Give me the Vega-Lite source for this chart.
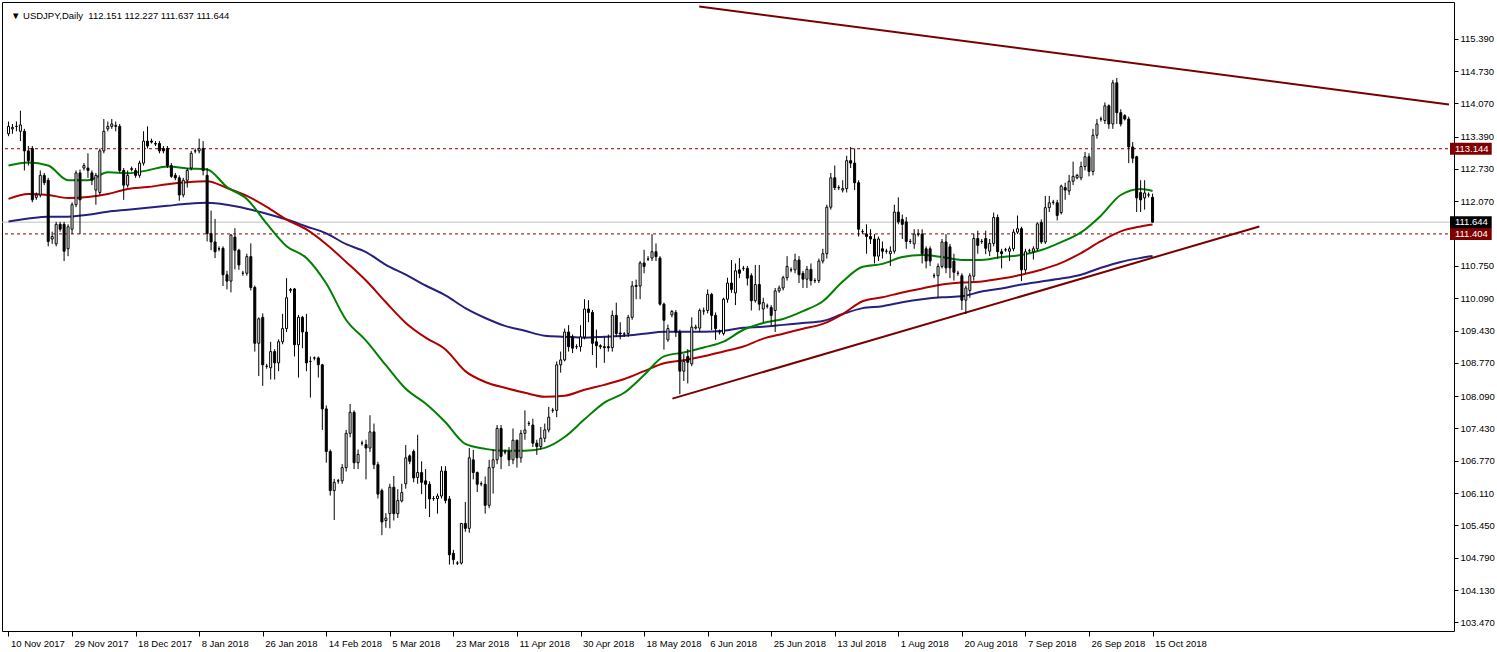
{
  "$schema": "https://vega.github.io/schema/vega-lite/v6.json",
  "width": 1452,
  "height": 629,
  "autosize": {"type": "none"},
  "padding": {"left": 2, "top": 2, "right": 43, "bottom": 21},
  "background": "#ffffff",
  "config": {
    "view": {"stroke": "#000000", "strokeWidth": 1},
    "font": "Liberation Sans",
    "axis": {"labelFont": "Liberation Sans", "labelFontSize": 9.5, "labelColor": "#000000", "tickColor": "#000000", "grid": false, "domain": false, "title": null}
  },
  "datasets": {
    "header": [
      {"t": "\u25bc USDJPY,Daily\u00a0\u00a0112.151 112.227 111.637 111.644"}
    ],
    "levels": [
      {"price": 113.144, "kind": "level"},
      {"price": 111.404, "kind": "level"},
      {"price": 111.644, "kind": "bid"}
    ],
    "trend": [
      {"line": "upper", "i": 173.875, "v": 116.05},
      {"line": "upper", "i": 362.625, "v": 114.049},
      {"line": "lower", "i": 167.125, "v": 108.039},
      {"line": "lower", "i": 314.875, "v": 111.556}
    ],
    "ma": [
      {"i":0,"g":112.802,"r":112.119,"b":111.657},
      {"i":5,"g":112.863,"r":112.219,"b":111.717},
      {"i":10,"g":112.802,"r":112.199,"b":111.757},
      {"i":15,"g":112.501,"r":112.139,"b":111.757},
      {"i":20,"g":112.501,"r":112.159,"b":111.797},
      {"i":25,"g":112.662,"r":112.219,"b":111.858},
      {"i":30,"g":112.642,"r":112.320,"b":111.898},
      {"i":35,"g":112.702,"r":112.360,"b":111.938},
      {"i":40,"g":112.782,"r":112.420,"b":111.978},
      {"i":45,"g":112.742,"r":112.461,"b":112.018},
      {"i":50,"g":112.722,"r":112.481,"b":112.039},
      {"i":55,"g":112.360,"r":112.340,"b":111.998},
      {"i":60,"g":112.119,"r":112.179,"b":111.918},
      {"i":65,"g":111.616,"r":111.958,"b":111.817},
      {"i":70,"g":111.154,"r":111.697,"b":111.697},
      {"i":75,"g":110.913,"r":111.496,"b":111.556},
      {"i":80,"g":110.390,"r":111.194,"b":111.415},
      {"i":85,"g":109.646,"r":110.832,"b":111.194},
      {"i":90,"g":109.224,"r":110.451,"b":111.033},
      {"i":95,"g":108.722,"r":110.008,"b":110.772},
      {"i":100,"g":108.240,"r":109.586,"b":110.571},
      {"i":105,"g":107.938,"r":109.285,"b":110.350},
      {"i":110,"g":107.556,"r":109.043,"b":110.149},
      {"i":115,"g":107.114,"r":108.601,"b":109.888},
      {"i":120,"g":107.013,"r":108.380,"b":109.687},
      {"i":125,"g":106.973,"r":108.260,"b":109.526},
      {"i":130,"g":106.973,"r":108.159,"b":109.425},
      {"i":135,"g":107.033,"r":108.079,"b":109.325},
      {"i":140,"g":107.255,"r":108.099,"b":109.305},
      {"i":145,"g":107.616,"r":108.220,"b":109.285},
      {"i":150,"g":107.958,"r":108.320,"b":109.305},
      {"i":155,"g":108.159,"r":108.440,"b":109.325},
      {"i":160,"g":108.521,"r":108.601,"b":109.365},
      {"i":165,"g":108.903,"r":108.762,"b":109.405},
      {"i":170,"g":108.983,"r":108.822,"b":109.405},
      {"i":175,"g":109.084,"r":108.903,"b":109.405},
      {"i":180,"g":109.204,"r":109.003,"b":109.425},
      {"i":185,"g":109.446,"r":109.104,"b":109.486},
      {"i":190,"g":109.586,"r":109.265,"b":109.506},
      {"i":195,"g":109.667,"r":109.365,"b":109.546},
      {"i":200,"g":109.827,"r":109.466,"b":109.586},
      {"i":205,"g":110.028,"r":109.566,"b":109.626},
      {"i":210,"g":110.431,"r":109.767,"b":109.767},
      {"i":215,"g":110.732,"r":110.028,"b":109.888},
      {"i":220,"g":110.792,"r":110.109,"b":109.928},
      {"i":225,"g":110.933,"r":110.209,"b":110.008},
      {"i":230,"g":110.973,"r":110.290,"b":110.069},
      {"i":235,"g":110.933,"r":110.370,"b":110.109},
      {"i":240,"g":110.873,"r":110.410,"b":110.129},
      {"i":245,"g":110.873,"r":110.431,"b":110.229},
      {"i":250,"g":110.933,"r":110.491,"b":110.290},
      {"i":255,"g":110.973,"r":110.571,"b":110.370},
      {"i":260,"g":111.074,"r":110.672,"b":110.431},
      {"i":265,"g":111.235,"r":110.812,"b":110.491},
      {"i":270,"g":111.436,"r":111.013,"b":110.571},
      {"i":275,"g":111.777,"r":111.255,"b":110.712},
      {"i":280,"g":112.199,"r":111.456,"b":110.832},
      {"i":285,"g":112.320,"r":111.556,"b":110.913},
      {"i":288,"g":112.280,"r":111.596,"b":110.953}
    ],
    "bars": [
      {"i":0,"o":113.45,"h":113.7,"l":113.4,"c":113.6},
      {"i":1,"o":113.55,"h":113.65,"l":113.45,"c":113.58},
      {"i":2,"o":113.6,"h":113.7,"l":113.5,"c":113.6},
      {"i":3,"o":113.5,"h":113.92,"l":113.3,"c":113.63},
      {"i":4,"o":113.5,"h":113.55,"l":112.7,"c":113.1},
      {"i":5,"o":113.1,"h":113.2,"l":112.8,"c":112.9},
      {"i":6,"o":113.15,"h":113.2,"l":112.05,"c":112.1},
      {"i":7,"o":112.15,"h":112.25,"l":112.1,"c":112.2},
      {"i":8,"o":112.2,"h":112.7,"l":112.15,"c":112.6},
      {"i":9,"o":112.6,"h":112.65,"l":112.4,"c":112.45},
      {"i":10,"o":112.5,"h":112.55,"l":111.15,"c":111.25},
      {"i":11,"o":111.3,"h":111.45,"l":111.2,"c":111.35},
      {"i":12,"o":111.2,"h":111.65,"l":111.15,"c":111.6},
      {"i":13,"o":111.6,"h":111.65,"l":111.45,"c":111.5},
      {"i":14,"o":111.6,"h":111.65,"l":110.85,"c":111.05},
      {"i":15,"o":111.1,"h":111.6,"l":110.95,"c":111.55},
      {"i":16,"o":111.5,"h":112.05,"l":111.4,"c":112.0},
      {"i":17,"o":112.0,"h":112.7,"l":111.95,"c":112.65},
      {"i":18,"o":112.65,"h":112.72,"l":111.4,"c":112.1},
      {"i":19,"o":112.75,"h":112.85,"l":112.7,"c":112.8},
      {"i":20,"o":112.75,"h":113.05,"l":112.55,"c":112.7},
      {"i":21,"o":112.65,"h":112.7,"l":112.4,"c":112.5},
      {"i":22,"o":112.3,"h":112.65,"l":112.0,"c":112.6},
      {"i":23,"o":112.25,"h":113.15,"l":112.2,"c":113.1},
      {"i":24,"o":113.1,"h":113.75,"l":113.05,"c":113.5},
      {"i":25,"o":113.55,"h":113.7,"l":113.5,"c":113.6},
      {"i":26,"o":113.6,"h":113.75,"l":113.55,"c":113.65},
      {"i":27,"o":113.6,"h":113.7,"l":113.5,"c":113.62},
      {"i":28,"o":113.6,"h":113.65,"l":112.65,"c":112.7},
      {"i":29,"o":112.7,"h":112.75,"l":112.1,"c":112.4},
      {"i":30,"o":112.4,"h":112.7,"l":112.35,"c":112.6},
      {"i":31,"o":112.72,"h":112.78,"l":112.68,"c":112.74},
      {"i":32,"o":112.7,"h":112.75,"l":112.55,"c":112.6},
      {"i":33,"o":112.6,"h":112.9,"l":112.55,"c":112.85},
      {"i":34,"o":112.85,"h":113.5,"l":112.8,"c":113.3},
      {"i":35,"o":113.3,"h":113.6,"l":113.15,"c":113.2},
      {"i":36,"o":113.3,"h":113.35,"l":113.25,"c":113.28},
      {"i":37,"o":113.25,"h":113.3,"l":113.2,"c":113.24},
      {"i":38,"o":113.25,"h":113.3,"l":113.05,"c":113.1},
      {"i":39,"o":113.15,"h":113.2,"l":113.05,"c":113.1},
      {"i":40,"o":113.15,"h":113.2,"l":112.75,"c":112.8},
      {"i":41,"o":112.8,"h":112.85,"l":112.55,"c":112.58},
      {"i":42,"o":112.6,"h":112.65,"l":112.5,"c":112.55},
      {"i":43,"o":112.55,"h":112.6,"l":112.08,"c":112.2},
      {"i":44,"o":112.2,"h":112.55,"l":112.15,"c":112.5},
      {"i":45,"o":112.5,"h":112.75,"l":112.35,"c":112.7},
      {"i":46,"o":112.75,"h":113.1,"l":112.7,"c":113.05},
      {"i":47,"o":113.1,"h":113.15,"l":113.05,"c":113.1},
      {"i":48,"o":113.1,"h":113.35,"l":113.05,"c":113.15},
      {"i":49,"o":113.15,"h":113.3,"l":112.6,"c":112.7},
      {"i":50,"o":112.6,"h":112.75,"l":111.25,"c":111.41},
      {"i":51,"o":111.41,"h":111.88,"l":111.07,"c":111.24},
      {"i":52,"o":111.24,"h":111.71,"l":110.91,"c":111.04},
      {"i":53,"o":111.1,"h":111.15,"l":111.05,"c":111.1},
      {"i":54,"o":111.11,"h":111.15,"l":110.34,"c":110.57},
      {"i":55,"o":110.57,"h":110.65,"l":110.27,"c":110.44},
      {"i":56,"o":110.44,"h":111.4,"l":110.21,"c":111.38},
      {"i":57,"o":111.34,"h":111.52,"l":110.68,"c":111.07},
      {"i":58,"o":111.07,"h":111.1,"l":110.67,"c":110.77},
      {"i":59,"o":110.6,"h":110.65,"l":110.55,"c":110.6},
      {"i":60,"o":110.6,"h":111.0,"l":110.55,"c":110.94},
      {"i":61,"o":110.94,"h":111.21,"l":110.25,"c":110.31},
      {"i":62,"o":110.31,"h":110.35,"l":109.0,"c":109.17},
      {"i":63,"o":109.17,"h":109.7,"l":108.5,"c":109.67},
      {"i":64,"o":109.7,"h":109.78,"l":108.3,"c":108.73},
      {"i":65,"o":108.7,"h":108.75,"l":108.65,"c":108.7},
      {"i":66,"o":108.67,"h":109.2,"l":108.43,"c":109.0},
      {"i":67,"o":109.0,"h":109.05,"l":108.43,"c":108.77},
      {"i":68,"o":108.77,"h":109.25,"l":108.6,"c":109.2},
      {"i":69,"o":109.2,"h":109.77,"l":109.15,"c":109.47},
      {"i":70,"o":109.47,"h":110.5,"l":109.4,"c":110.1},
      {"i":71,"o":110.25,"h":110.3,"l":110.2,"c":110.27},
      {"i":72,"o":110.28,"h":110.3,"l":108.9,"c":109.14},
      {"i":73,"o":109.14,"h":109.75,"l":108.47,"c":109.7},
      {"i":74,"o":109.7,"h":109.73,"l":109.07,"c":109.4},
      {"i":75,"o":109.4,"h":109.77,"l":108.6,"c":108.77},
      {"i":76,"o":108.8,"h":108.9,"l":108.06,"c":108.8},
      {"i":77,"o":108.87,"h":108.9,"l":108.82,"c":108.87},
      {"i":78,"o":108.87,"h":108.9,"l":108.47,"c":108.73},
      {"i":79,"o":108.73,"h":108.75,"l":107.4,"c":107.83},
      {"i":80,"o":107.83,"h":107.9,"l":106.73,"c":106.96},
      {"i":81,"o":106.96,"h":107.0,"l":106.06,"c":106.16},
      {"i":82,"o":106.16,"h":106.4,"l":105.56,"c":106.33},
      {"i":83,"o":106.36,"h":106.4,"l":106.3,"c":106.36},
      {"i":84,"o":106.36,"h":106.7,"l":106.3,"c":106.63},
      {"i":85,"o":106.63,"h":107.4,"l":106.55,"c":107.33},
      {"i":86,"o":107.33,"h":107.93,"l":107.25,"c":107.76},
      {"i":87,"o":107.76,"h":107.8,"l":106.6,"c":106.73},
      {"i":88,"o":106.73,"h":107.0,"l":106.6,"c":106.9},
      {"i":89,"o":107.13,"h":107.18,"l":107.08,"c":107.13},
      {"i":90,"o":107.1,"h":107.2,"l":106.39,"c":107.03},
      {"i":91,"o":107.03,"h":107.7,"l":106.95,"c":107.36},
      {"i":92,"o":107.36,"h":107.53,"l":106.6,"c":106.69},
      {"i":93,"o":106.69,"h":106.75,"l":106.0,"c":106.09},
      {"i":94,"o":106.16,"h":106.2,"l":105.25,"c":105.52},
      {"i":95,"o":105.55,"h":105.7,"l":105.4,"c":105.6},
      {"i":96,"o":105.69,"h":106.3,"l":105.39,"c":106.23},
      {"i":97,"o":106.23,"h":106.46,"l":105.55,"c":105.69},
      {"i":98,"o":105.69,"h":106.19,"l":105.6,"c":105.96},
      {"i":99,"o":105.95,"h":106.3,"l":105.92,"c":106.12},
      {"i":100,"o":106.3,"h":107.09,"l":106.2,"c":106.83},
      {"i":101,"o":106.87,"h":106.9,"l":106.7,"c":106.76},
      {"i":102,"o":106.96,"h":107.0,"l":106.33,"c":106.42},
      {"i":103,"o":106.43,"h":107.3,"l":106.3,"c":106.53},
      {"i":104,"o":106.53,"h":106.76,"l":106.09,"c":106.33},
      {"i":105,"o":106.36,"h":106.6,"l":105.79,"c":106.29},
      {"i":106,"o":106.29,"h":106.35,"l":105.62,"c":105.99},
      {"i":107,"o":106.0,"h":106.05,"l":105.95,"c":106.0},
      {"i":108,"o":106.0,"h":106.1,"l":105.69,"c":106.05},
      {"i":109,"o":106.05,"h":106.66,"l":106.0,"c":106.56},
      {"i":110,"o":106.56,"h":106.66,"l":105.9,"c":105.96},
      {"i":111,"o":105.99,"h":106.05,"l":104.65,"c":104.85},
      {"i":112,"o":104.88,"h":104.95,"l":104.65,"c":104.75},
      {"i":113,"o":104.68,"h":104.72,"l":104.64,"c":104.68},
      {"i":114,"o":104.68,"h":105.5,"l":104.65,"c":105.49},
      {"i":115,"o":105.49,"h":105.93,"l":105.32,"c":105.39},
      {"i":116,"o":105.39,"h":107.03,"l":105.3,"c":106.83},
      {"i":117,"o":106.79,"h":106.99,"l":106.39,"c":106.53},
      {"i":118,"o":106.53,"h":106.55,"l":106.13,"c":106.29},
      {"i":119,"o":106.3,"h":106.35,"l":106.25,"c":106.3},
      {"i":120,"o":106.29,"h":106.45,"l":105.69,"c":105.86},
      {"i":121,"o":105.86,"h":106.79,"l":105.8,"c":106.63},
      {"i":122,"o":106.63,"h":107.0,"l":106.1,"c":106.79},
      {"i":123,"o":106.79,"h":107.5,"l":106.7,"c":107.43},
      {"i":124,"o":107.43,"h":107.5,"l":106.6,"c":106.86},
      {"i":125,"o":106.95,"h":107.0,"l":106.9,"c":106.95},
      {"i":126,"o":106.96,"h":107.05,"l":106.66,"c":106.79},
      {"i":127,"o":106.79,"h":107.43,"l":106.7,"c":107.19},
      {"i":128,"o":107.19,"h":107.2,"l":106.63,"c":106.83},
      {"i":129,"o":106.83,"h":107.4,"l":106.73,"c":107.33},
      {"i":130,"o":107.33,"h":107.8,"l":107.2,"c":107.4},
      {"i":131,"o":107.53,"h":107.58,"l":107.48,"c":107.53},
      {"i":132,"o":107.5,"h":107.63,"l":107.05,"c":107.13},
      {"i":133,"o":107.13,"h":107.2,"l":106.89,"c":107.06},
      {"i":134,"o":107.06,"h":107.46,"l":107.0,"c":107.23},
      {"i":135,"o":107.23,"h":107.53,"l":107.15,"c":107.4},
      {"i":136,"o":107.4,"h":107.87,"l":107.35,"c":107.66},
      {"i":137,"o":107.8,"h":107.85,"l":107.75,"c":107.8},
      {"i":138,"o":107.8,"h":108.8,"l":107.66,"c":108.73},
      {"i":139,"o":108.73,"h":109.0,"l":108.57,"c":108.83},
      {"i":140,"o":108.83,"h":109.47,"l":108.8,"c":109.4},
      {"i":141,"o":109.4,"h":109.54,"l":109.0,"c":109.1},
      {"i":142,"o":109.3,"h":109.35,"l":108.97,"c":109.07},
      {"i":143,"o":109.1,"h":109.15,"l":109.05,"c":109.1},
      {"i":144,"o":109.1,"h":109.54,"l":109.0,"c":109.3},
      {"i":145,"o":109.3,"h":110.07,"l":109.25,"c":109.87},
      {"i":146,"o":109.87,"h":110.05,"l":109.6,"c":109.8},
      {"i":147,"o":109.8,"h":109.85,"l":108.93,"c":109.17},
      {"i":148,"o":109.2,"h":109.45,"l":108.67,"c":109.12},
      {"i":149,"o":109.12,"h":109.15,"l":109.05,"c":109.1},
      {"i":150,"o":109.1,"h":109.3,"l":108.77,"c":109.08},
      {"i":151,"o":109.1,"h":109.35,"l":109.0,"c":109.08},
      {"i":152,"o":109.08,"h":109.84,"l":109.0,"c":109.74},
      {"i":153,"o":109.74,"h":110.0,"l":109.3,"c":109.37},
      {"i":154,"o":109.38,"h":109.6,"l":109.25,"c":109.36},
      {"i":155,"o":109.36,"h":109.4,"l":109.3,"c":109.36},
      {"i":156,"o":109.37,"h":109.75,"l":109.3,"c":109.7},
      {"i":157,"o":109.7,"h":110.44,"l":109.65,"c":110.34},
      {"i":158,"o":110.33,"h":110.47,"l":110.07,"c":110.35},
      {"i":159,"o":110.34,"h":110.85,"l":110.07,"c":110.81},
      {"i":160,"o":110.81,"h":111.08,"l":110.6,"c":110.74},
      {"i":161,"o":110.89,"h":110.95,"l":110.85,"c":110.89},
      {"i":162,"o":110.91,"h":111.4,"l":110.85,"c":111.04},
      {"i":163,"o":111.04,"h":111.21,"l":110.85,"c":110.94},
      {"i":164,"o":110.91,"h":110.95,"l":109.94,"c":109.97},
      {"i":165,"o":109.97,"h":110.0,"l":109.04,"c":109.64},
      {"i":166,"o":109.24,"h":109.55,"l":109.2,"c":109.47},
      {"i":167,"o":109.75,"h":109.85,"l":109.7,"c":109.82},
      {"i":168,"o":109.8,"h":109.85,"l":109.3,"c":109.4},
      {"i":169,"o":109.4,"h":109.45,"l":108.13,"c":108.6},
      {"i":170,"o":108.6,"h":108.95,"l":108.4,"c":108.8},
      {"i":171,"o":108.9,"h":109.05,"l":108.35,"c":108.78},
      {"i":172,"o":108.75,"h":109.7,"l":108.7,"c":109.5},
      {"i":173,"o":109.48,"h":109.55,"l":109.45,"c":109.5},
      {"i":174,"o":109.48,"h":109.88,"l":109.4,"c":109.84},
      {"i":175,"o":109.83,"h":109.9,"l":109.75,"c":109.83},
      {"i":176,"o":109.84,"h":110.27,"l":109.78,"c":110.17},
      {"i":177,"o":110.17,"h":110.2,"l":109.44,"c":109.74},
      {"i":178,"o":109.74,"h":109.8,"l":109.24,"c":109.47},
      {"i":179,"o":109.4,"h":109.45,"l":109.35,"c":109.4},
      {"i":180,"o":109.37,"h":110.1,"l":109.33,"c":110.07},
      {"i":181,"o":110.07,"h":110.51,"l":110.0,"c":110.4},
      {"i":182,"o":110.4,"h":110.87,"l":110.2,"c":110.27},
      {"i":183,"o":110.2,"h":110.8,"l":109.95,"c":110.65},
      {"i":184,"o":110.67,"h":110.91,"l":110.5,"c":110.6},
      {"i":185,"o":110.7,"h":110.75,"l":110.65,"c":110.7},
      {"i":186,"o":110.7,"h":110.75,"l":110.35,"c":110.5},
      {"i":187,"o":110.55,"h":110.6,"l":109.84,"c":110.04},
      {"i":188,"o":110.04,"h":110.77,"l":110.0,"c":110.37},
      {"i":189,"o":110.37,"h":110.77,"l":109.84,"c":109.97},
      {"i":190,"o":109.87,"h":110.1,"l":109.6,"c":110.0},
      {"i":191,"o":109.93,"h":109.98,"l":109.88,"c":109.93},
      {"i":192,"o":109.9,"h":109.95,"l":109.53,"c":109.74},
      {"i":193,"o":109.84,"h":110.3,"l":109.4,"c":110.24},
      {"i":194,"o":110.24,"h":110.35,"l":110.2,"c":110.3},
      {"i":195,"o":110.3,"h":110.55,"l":110.25,"c":110.51},
      {"i":196,"o":110.51,"h":110.95,"l":110.45,"c":110.74},
      {"i":197,"o":110.67,"h":110.72,"l":110.62,"c":110.67},
      {"i":198,"o":110.67,"h":111.0,"l":110.6,"c":110.87},
      {"i":199,"o":110.87,"h":110.95,"l":110.4,"c":110.57},
      {"i":200,"o":110.6,"h":110.65,"l":110.3,"c":110.48},
      {"i":201,"o":110.48,"h":110.75,"l":110.3,"c":110.68},
      {"i":202,"o":110.68,"h":110.8,"l":110.35,"c":110.45},
      {"i":203,"o":110.45,"h":110.5,"l":110.4,"c":110.45},
      {"i":204,"o":110.45,"h":110.9,"l":110.4,"c":110.85},
      {"i":205,"o":110.85,"h":111.1,"l":110.8,"c":111.0},
      {"i":206,"o":111.0,"h":112.0,"l":110.9,"c":111.95},
      {"i":207,"o":111.95,"h":112.65,"l":111.9,"c":112.55},
      {"i":208,"o":112.55,"h":112.8,"l":112.3,"c":112.35},
      {"i":209,"o":112.35,"h":112.4,"l":112.3,"c":112.35},
      {"i":210,"o":112.3,"h":112.5,"l":112.25,"c":112.33},
      {"i":211,"o":112.33,"h":113.0,"l":112.25,"c":112.9},
      {"i":212,"o":112.9,"h":113.18,"l":112.75,"c":112.85},
      {"i":213,"o":112.85,"h":113.15,"l":112.3,"c":112.45},
      {"i":214,"o":112.45,"h":112.5,"l":111.35,"c":111.5},
      {"i":215,"o":111.45,"h":111.5,"l":111.4,"c":111.45},
      {"i":216,"o":111.4,"h":111.6,"l":111.0,"c":111.35},
      {"i":217,"o":111.35,"h":111.5,"l":111.2,"c":111.3},
      {"i":218,"o":111.3,"h":111.4,"l":110.8,"c":110.95},
      {"i":219,"o":110.95,"h":111.35,"l":110.85,"c":111.3},
      {"i":220,"o":111.1,"h":111.25,"l":110.9,"c":111.05},
      {"i":221,"o":111.05,"h":111.1,"l":111.0,"c":111.05},
      {"i":222,"o":111.0,"h":111.15,"l":110.75,"c":111.05},
      {"i":223,"o":111.05,"h":112.0,"l":111.0,"c":111.85},
      {"i":224,"o":111.85,"h":112.15,"l":111.6,"c":111.65},
      {"i":225,"o":111.7,"h":111.8,"l":111.3,"c":111.6},
      {"i":226,"o":111.65,"h":111.75,"l":111.1,"c":111.25},
      {"i":227,"o":111.25,"h":111.3,"l":111.2,"c":111.25},
      {"i":228,"o":111.2,"h":111.5,"l":111.1,"c":111.4},
      {"i":229,"o":111.4,"h":111.5,"l":111.35,"c":111.4},
      {"i":230,"o":111.4,"h":111.5,"l":110.8,"c":111.0},
      {"i":231,"o":111.1,"h":111.15,"l":110.7,"c":110.85},
      {"i":232,"o":111.1,"h":111.15,"l":110.75,"c":110.85},
      {"i":233,"o":110.55,"h":110.6,"l":110.5,"c":110.55},
      {"i":234,"o":110.55,"h":110.8,"l":110.1,"c":110.74},
      {"i":235,"o":110.74,"h":111.3,"l":110.7,"c":111.24},
      {"i":236,"o":111.24,"h":111.4,"l":110.6,"c":110.71},
      {"i":237,"o":111.14,"h":111.2,"l":110.5,"c":110.71},
      {"i":238,"o":110.85,"h":111.0,"l":110.45,"c":110.62},
      {"i":239,"o":110.6,"h":110.65,"l":110.55,"c":110.6},
      {"i":240,"o":110.55,"h":110.6,"l":109.85,"c":110.05},
      {"i":241,"o":110.05,"h":110.35,"l":109.77,"c":110.3},
      {"i":242,"o":110.25,"h":110.6,"l":110.1,"c":110.55},
      {"i":243,"o":110.54,"h":111.41,"l":110.45,"c":111.31},
      {"i":244,"o":111.31,"h":111.47,"l":111.0,"c":111.17},
      {"i":245,"o":111.25,"h":111.3,"l":111.2,"c":111.25},
      {"i":246,"o":111.31,"h":111.47,"l":110.99,"c":111.11},
      {"i":247,"o":111.05,"h":111.3,"l":110.95,"c":111.21},
      {"i":248,"o":111.21,"h":111.84,"l":111.15,"c":111.74},
      {"i":249,"o":111.74,"h":111.8,"l":110.9,"c":111.04},
      {"i":250,"o":111.04,"h":111.1,"l":110.7,"c":111.0},
      {"i":251,"o":111.08,"h":111.12,"l":111.04,"c":111.08},
      {"i":252,"o":111.05,"h":111.15,"l":110.85,"c":111.1},
      {"i":253,"o":111.1,"h":111.5,"l":111.05,"c":111.44},
      {"i":254,"o":111.44,"h":111.78,"l":111.4,"c":111.51},
      {"i":255,"o":111.51,"h":111.55,"l":110.44,"c":110.67},
      {"i":256,"o":110.67,"h":111.1,"l":110.6,"c":111.04},
      {"i":257,"o":111.06,"h":111.1,"l":111.02,"c":111.06},
      {"i":258,"o":111.04,"h":111.15,"l":110.88,"c":111.1},
      {"i":259,"o":111.1,"h":111.64,"l":111.05,"c":111.61},
      {"i":260,"o":111.64,"h":111.7,"l":111.2,"c":111.24},
      {"i":261,"o":111.24,"h":112.18,"l":111.2,"c":111.94},
      {"i":262,"o":111.94,"h":112.18,"l":111.85,"c":112.04},
      {"i":263,"o":112.05,"h":112.1,"l":112.0,"c":112.05},
      {"i":264,"o":112.04,"h":112.1,"l":111.68,"c":111.78},
      {"i":265,"o":111.84,"h":112.41,"l":111.8,"c":112.38},
      {"i":266,"o":112.35,"h":112.45,"l":112.1,"c":112.3},
      {"i":267,"o":112.28,"h":112.61,"l":112.2,"c":112.48},
      {"i":268,"o":112.48,"h":112.88,"l":112.4,"c":112.58},
      {"i":269,"o":112.55,"h":112.63,"l":112.52,"c":112.6},
      {"i":270,"o":112.55,"h":112.88,"l":112.5,"c":112.78},
      {"i":271,"o":112.78,"h":113.08,"l":112.7,"c":112.98},
      {"i":272,"o":112.98,"h":113.05,"l":112.58,"c":112.68},
      {"i":273,"o":112.68,"h":113.55,"l":112.6,"c":113.42},
      {"i":274,"o":113.42,"h":113.75,"l":113.35,"c":113.65},
      {"i":275,"o":113.75,"h":113.8,"l":113.7,"c":113.75},
      {"i":276,"o":113.72,"h":114.09,"l":113.65,"c":114.02},
      {"i":277,"o":114.02,"h":114.05,"l":113.55,"c":113.65},
      {"i":278,"o":113.65,"h":114.55,"l":113.55,"c":114.49},
      {"i":279,"o":114.49,"h":114.59,"l":113.65,"c":113.88},
      {"i":280,"o":113.88,"h":113.95,"l":113.6,"c":113.65},
      {"i":281,"o":113.82,"h":113.85,"l":113.72,"c":113.75},
      {"i":282,"o":113.75,"h":113.8,"l":112.85,"c":113.18},
      {"i":283,"o":113.18,"h":113.28,"l":112.85,"c":112.95},
      {"i":284,"o":112.98,"h":113.0,"l":111.85,"c":112.14},
      {"i":285,"o":112.25,"h":112.5,"l":111.85,"c":112.1},
      {"i":286,"o":112.14,"h":112.5,"l":111.9,"c":112.24},
      {"i":287,"o":112.2,"h":112.25,"l":112.15,"c":112.2},
      {"i":288,"o":112.151,"h":112.227,"l":111.637,"c":111.644}
    ]
  },
  "resolve": {"scale": {"color": "independent"}},
  "encoding": {
    "x": {
      "type": "quantitative",
      "scale": {"domain": [-0.375, 362.625], "nice": false, "zero": false},
      "axis": {
        "orient": "bottom",
        "values": [0,16,32,48,64,80,96,112,128,144,160,176,192,208,224,240,256,272,288],
        "labelExpr": "['10 Nov 2017','29 Nov 2017','18 Dec 2017','8 Jan 2018','26 Jan 2018','14 Feb 2018','5 Mar 2018','23 Mar 2018','11 Apr 2018','30 Apr 2018','18 May 2018','6 Jun 2018','25 Jun 2018','13 Jul 2018','1 Aug 2018','20 Aug 2018','7 Sep 2018','26 Sep 2018','15 Oct 2018'][round(datum.value/16)]",
        "labelAlign": "left",
        "labelBaseline": "top",
        "labelOffset": 2,
        "labelPadding": 2,
        "tickSize": 5,
        "labelFlush": false,
        "labelOverlap": false
      }
    },
    "y": {
      "type": "quantitative",
      "scale": {"domain": [103.395, 116.039], "nice": false, "zero": false},
      "axis": {
        "orient": "right",
        "values": [115.39,114.73,114.07,113.39,112.73,112.07,110.75,110.09,109.43,108.77,108.09,107.43,106.77,106.11,105.45,104.79,104.13,103.47],
        "format": ".3f",
        "tickSize": 4,
        "labelPadding": 2,
        "labelBaseline": "middle",
        "labelFlush": false,
        "labelOverlap": false
      }
    }
  },
  "layer": [
    {
      "data": {"name": "levels"},
      "transform": [{"filter": "datum.kind === 'bid'"}],
      "mark": {"type": "rule", "color": "#c0c0c0", "strokeWidth": 1},
      "encoding": {"x": null, "y": {"field": "price"}}
    },
    {
      "data": {"name": "levels"},
      "transform": [{"filter": "datum.kind === 'level'"}],
      "mark": {"type": "rule", "color": "#800000", "strokeWidth": 1, "strokeDash": [3, 3]},
      "encoding": {"x": null, "y": {"field": "price"}}
    },
    {
      "data": {"name": "ma"},
      "mark": {"type": "line", "color": "#26207e", "strokeWidth": 2, "interpolate": "monotone"},
      "encoding": {"x": {"field": "i"}, "y": {"field": "b"}}
    },
    {
      "data": {"name": "ma"},
      "mark": {"type": "line", "color": "#b00000", "strokeWidth": 2, "interpolate": "monotone"},
      "encoding": {"x": {"field": "i"}, "y": {"field": "r"}}
    },
    {
      "data": {"name": "ma"},
      "mark": {"type": "line", "color": "#008000", "strokeWidth": 2, "interpolate": "monotone"},
      "encoding": {"x": {"field": "i"}, "y": {"field": "g"}}
    },
    {
      "data": {"name": "trend"},
      "mark": {"type": "line", "color": "#7a0000", "strokeWidth": 2, "clip": true},
      "encoding": {"x": {"field": "i"}, "y": {"field": "v"}, "detail": {"field": "line"}}
    },
    {
      "data": {"name": "bars"},
      "mark": {"type": "rule", "color": "#000000", "strokeWidth": 1},
      "encoding": {"x": {"field": "i"}, "y": {"field": "l"}, "y2": {"field": "h"}}
    },
    {
      "data": {"name": "bars"},
      "mark": {"type": "bar", "orient": "vertical", "size": 2, "stroke": "#000000", "strokeWidth": 1},
      "encoding": {
        "x": {"field": "i"},
        "y": {"field": "o"},
        "y2": {"field": "c"},
        "fill": {"condition": {"test": "datum.c >= datum.o", "value": "#ffffff"}, "value": "#000000"}
      }
    },
    {
      "data": {"name": "levels"},
      "mark": {"type": "bar", "orient": "horizontal", "height": 12, "clip": false},
      "encoding": {
        "x": {"datum": 362.875},
        "x2": {"datum": 373.375},
        "y": {"field": "price"},
        "color": {"field": "kind", "type": "nominal", "scale": {"domain": ["level", "bid"], "range": ["#800000", "#000000"]}, "legend": null}
      }
    },
    {
      "data": {"name": "levels"},
      "mark": {"type": "text", "align": "left", "baseline": "middle", "color": "#ffffff", "font": "Liberation Sans", "fontSize": 9.5, "clip": false},
      "encoding": {
        "x": {"datum": 364.125},
        "y": {"field": "price"},
        "text": {"field": "price", "type": "quantitative", "format": ".3f"}
      }
    },
    {
      "data": {"name": "header"},
      "mark": {"type": "text", "align": "left", "baseline": "alphabetic", "color": "#000000", "font": "Liberation Sans", "fontSize": 9.5},
      "encoding": {
        "x": {"datum": 0.625},
        "y": {"datum": 115.8},
        "text": {"field": "t"}
      }
    }
  ]
}
